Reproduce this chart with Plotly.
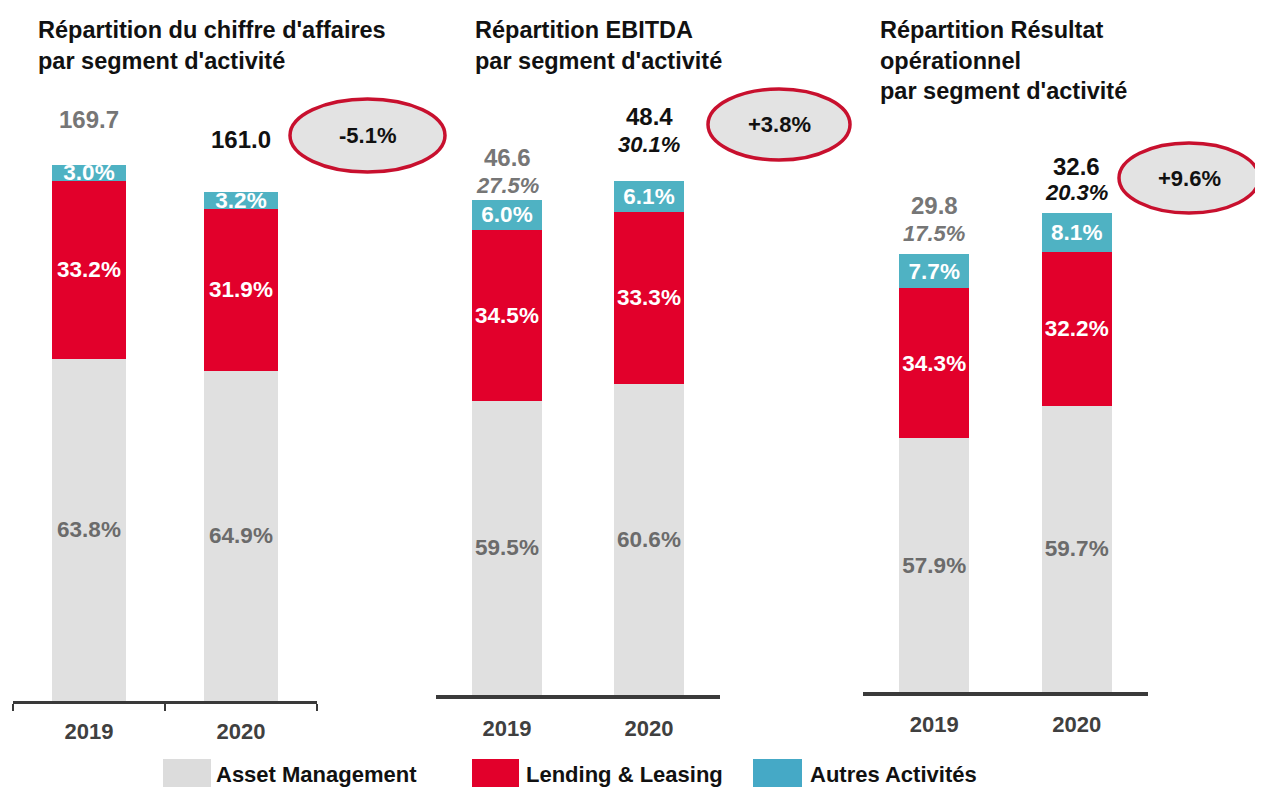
import plotly.graph_objects as go

W, H = 1263, 787
OX, OY = 8, 8            # page body margin of the browser
FW, FH = W - OX, H - OY  # figure size so it ends exactly at the window edge

years = ["2019", "2020"]
segments = ["Asset Management", "Lending & Leasing", "Autres Activités"]

titles = [
    "Répartition du chiffre d'affaires<br>par segment d'activité",
    "Répartition EBITDA<br>par segment d'activité",
    "Répartition Résultat<br>opérationnel<br>par segment d'activité",
]

# Chiffre d'affaires (M€)
ca_totals = [169.7, 161.0]
ca_asset = [63.8, 64.9]
ca_lending = [33.2, 31.9]
ca_autres = [3.0, 3.2]
ca_margin = ["", ""]
ca_change = "-5.1%"

# EBITDA (M€)
ebitda_totals = [46.6, 48.4]
ebitda_asset = [59.5, 60.6]
ebitda_lending = [34.5, 33.3]
ebitda_autres = [6.0, 6.1]
ebitda_margin = ["27.5%", "30.1%"]
ebitda_change = "+3.8%"

# Résultat opérationnel (M€)
ro_totals = [29.8, 32.6]
ro_asset = [57.9, 59.7]
ro_lending = [34.3, 32.2]
ro_autres = [7.7, 8.1]
ro_margin = ["17.5%", "20.3%"]
ro_change = "+9.6%"

FONT = "Arial, Liberation Sans, sans-serif"
C_GREY = "#e0e0e0"
C_RED = "#e2002b"
C_CYAN = "#4fb2c3"
C_RING = "#c8102e"


def px(x):
    return (x - OX) / FW


def py(y):
    return 1 - (y - OY) / FH


panels = [
    dict(totals=ca_totals, shares=[ca_asset, ca_lending, ca_autres], margin=ca_margin,
         change=ca_change, title=titles[0],
         xdom=(13, 317), base=701, scale=3.16, ymax=200, ticks=True,
         title_x=36, ell=(290, 99, 445, 172),
         shift_val=[45, 53], shift_mar=[0, 0], axis_w=2.5, standoff=9),
    dict(totals=ebitda_totals, shares=[ebitda_asset, ebitda_lending, ebitda_autres], margin=ebitda_margin,
         change=ebitda_change, title=titles[1],
         xdom=(436, 720), base=695, scale=10.62, ymax=60, ticks=False,
         title_x=473, ell=(708, 89, 850, 160),
         shift_val=[43, 64], shift_mar=[15, 36], axis_w=3.5, standoff=11),
    dict(totals=ro_totals, shares=[ro_asset, ro_lending, ro_autres], margin=ro_margin,
         change=ro_change, title=titles[2],
         xdom=(863, 1148), base=692, scale=14.7, ymax=45, ticks=False,
         title_x=878, ell=(1119, 143, 1259, 213),
         shift_val=[48, 46], shift_mar=[20, 20], axis_w=3.5, standoff=10),
]

seg_colors = [C_GREY, C_RED, C_CYAN]
seg_text_colors = ["#6b6b6b", "white", "white"]

fig = go.Figure()
annotations = []
shapes = []

for i, p in enumerate(panels, start=1):
    xa = "x" if i == 1 else f"x{i}"
    ya = "y" if i == 1 else f"y{i}"
    for s, shares in enumerate(p["shares"]):
        vals = [t * sh / 100.0 for t, sh in zip(p["totals"], shares)]
        fig.add_trace(go.Bar(
            x=years, y=vals, xaxis=xa, yaxis=ya,
            name=segments[s], showlegend=False,
            marker=dict(color=seg_colors[s], line=dict(width=0)),
            width=0.49,
            text=[f"{sh:.1f}%" for sh in shares],
            textposition="inside", insidetextanchor="middle",
            textangle=0, constraintext="none",
            textfont=dict(family=FONT, size=22.5, color=seg_text_colors[s], weight="bold"),
            hoverinfo="skip",
        ))
    x0, x1 = p["xdom"]
    ybot = p["base"]
    ytop = ybot - p["ymax"] * p["scale"]
    xkey = "xaxis" if i == 1 else f"xaxis{i}"
    ykey = "yaxis" if i == 1 else f"yaxis{i}"
    fig.update_layout({
        xkey: dict(domain=[px(x0), px(x1)], anchor=ya, type="category",
                   range=[-0.5, 1.5], showgrid=False, zeroline=False,
                   showline=True, linecolor="#3a3a3a", linewidth=p["axis_w"],
                   ticks="outside" if p["ticks"] else "", tickson="boundaries",
                   ticklen=7, tickwidth=2, tickcolor="#3a3a3a",
                   ticklabelstandoff=p["standoff"],
                   tickfont=dict(family=FONT, size=22, color="#404040", weight="bold"),
                   fixedrange=True),
        ykey: dict(domain=[py(ybot), py(ytop)], anchor=xa,
                   range=[0, p["ymax"]], visible=False, showgrid=False,
                   zeroline=False, fixedrange=True),
    })
    # totals above bars
    for j, yr in enumerate(years):
        col = "#767676" if j == 0 else "#111111"
        annotations.append(dict(
            x=j, y=p["totals"][j], xref=xa, yref=ya,
            text=f"<b>{p['totals'][j]:.1f}</b>", showarrow=False,
            xanchor="center", yanchor="middle", yshift=p["shift_val"][j],
            font=dict(family=FONT, size=24, color=col)))
        if p["margin"][j]:
            annotations.append(dict(
                x=j, y=p["totals"][j], xref=xa, yref=ya,
                text=f"<b><i>{p['margin'][j]}</i></b>", showarrow=False,
                xanchor="center", yanchor="middle", yshift=p["shift_mar"][j],
                font=dict(family=FONT, size=22, color=col)))
    # title
    annotations.append(dict(
        x=px(p["title_x"]), y=py(15), xref="paper", yref="paper",
        xanchor="left", yanchor="top", align="left", showarrow=False,
        text=f"<b>{p['title']}</b>",
        font=dict(family=FONT, size=23.5, color="#111111")))
    # change ellipse
    ex0, ey0, ex1, ey1 = p["ell"]
    shapes.append(dict(type="circle", xref="paper", yref="paper",
                       x0=px(ex0), x1=px(ex1), y0=py(ey1), y1=py(ey0),
                       fillcolor="#e3e3e3", line=dict(color=C_RING, width=3.5)))
    annotations.append(dict(
        x=px((ex0 + ex1) / 2), y=py((ey0 + ey1) / 2), xref="paper", yref="paper",
        xanchor="center", yanchor="middle",
        text=f"<b>{p['change']}</b>", showarrow=False,
        font=dict(family=FONT, size=22, color="#111111")))

# custom legend
leg_sw = [(163, 211), (472, 519), (753, 802)]
leg_tx = [214, 524, 808]
for s in range(3):
    a, b = leg_sw[s]
    shapes.append(dict(type="rect", xref="paper", yref="paper",
                       x0=px(a), x1=px(b), y0=py(792), y1=py(759),
                       fillcolor=["#dcdcdc", "#e2002b", "#45a9c6"][s], line=dict(width=0)))
    annotations.append(dict(
        x=px(leg_tx[s]), y=py(774), xref="paper", yref="paper",
        xanchor="left", yanchor="middle", showarrow=False,
        text=f"<b>{segments[s]}</b>",
        font=dict(family=FONT, size=22, color="#111111")))

fig.update_layout(
    width=FW, height=FH, autosize=False,
    margin=dict(l=0, r=0, t=0, b=0),
    barmode="stack",
    plot_bgcolor="white", paper_bgcolor="white",
    showlegend=False,
    annotations=annotations, shapes=shapes,
    font=dict(family=FONT),
)

fig.write_html("out.html", config={"displayModeBar": False})
